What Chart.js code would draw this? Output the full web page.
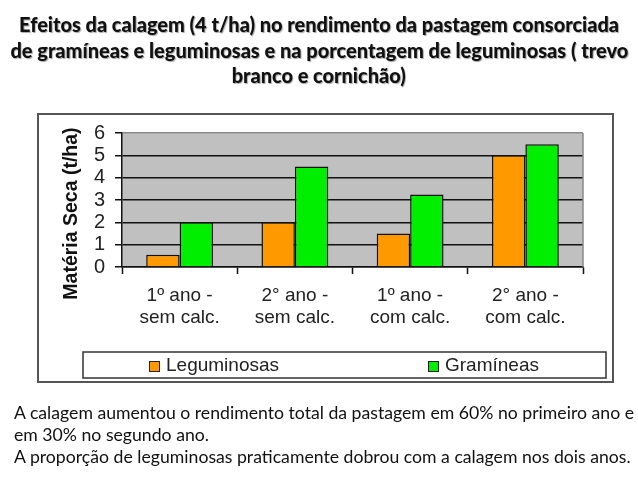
<!DOCTYPE html>
<html>
<head>
<meta charset="utf-8">
<script src="https://cdn.jsdelivr.net/npm/chart.js@4.4.1/dist/chart.umd.min.js"></script>
<style>
  html, body { margin: 0; padding: 0; background: #fff; }
  #wrap { position: relative; width: 638px; height: 479px; overflow: hidden; }
  #c { position: absolute; left: 0; top: 0; }
  .tl { position: absolute; left: -500px; width: 1638px; text-align: center; white-space: nowrap;
        font-family: Lato, "Open Sans", sans-serif; font-weight: 900; font-size: 21px; line-height: 24px;
        color: #111; text-shadow: 1px 1px 1px rgba(0,0,0,0.35); }
  .bl { position: absolute; left: 14px; white-space: nowrap;
        font-family: Lato, "Open Sans", sans-serif; font-size: 17.5px; line-height: 22px; color: #111; }
  .tl span, .bl span { display: inline-block; }
  .bl span { transform-origin: left center; }
  .tl span { transform-origin: center center; }
</style>
</head>
<body>
<div id="wrap">
  <canvas id="c" width="638" height="479"></canvas>
  <div class="tl" style="top:12px"><span id="t1">Efeitos da calagem (4 t/ha) no rendimento da pastagem consorciada</span></div>
  <div class="tl" style="top:38px"><span id="t2">de gramíneas e leguminosas e na porcentagem de leguminosas ( trevo</span></div>
  <div class="tl" style="top:63px"><span id="t3">branco e cornichão)</span></div>
  <div class="bl" style="top:402px"><span id="b1">A calagem aumentou o rendimento total da pastagem em 60% no primeiro ano e</span></div>
  <div class="bl" style="top:424px"><span id="b2">em 30% no segundo ano.</span></div>
  <div class="bl" style="top:446px"><span id="b3">A proporção de leguminosas praticamente dobrou com a calagem nos dois anos.</span></div>
</div>
<script>
// ---- data ----
const categories = [['1º ano -', 'sem calc.'], ['2° ano -', 'sem calc.'], ['1º ano -', 'com calc.'], ['2° ano -', 'com calc.']];
const seriesNames = ['Leguminosas', 'Gramíneas'];
const leguminosas = [0.55, 2.0, 1.5, 5.0];
const gramineas = [2.0, 4.5, 3.25, 5.5];
const yTicks = [0, 1, 2, 3, 4, 5, 6];
const yTitle = 'Matéria Seca (t/ha)';

// ---- text fitting ----
function fit(id, target) {
  const el = document.getElementById(id);
  const w = el.getBoundingClientRect().width;
  const s = target / w;
  el.style.transform = 'scaleX(' + s + ')';
  return s;
}
const s1 = fit('t1', 600);
fit('t2', 618);
document.getElementById('t3').style.transform = 'scaleX(' + s1 + ')';
const sb = fit('b1', 620);
document.getElementById('b2').style.transform = 'scaleX(' + sb + ')';
document.getElementById('b3').style.transform = 'scaleX(' + sb + ')';

const FONT = "'Liberation Sans', Arial, sans-serif";

const decor = {
  id: 'decor',
  beforeDraw(chart) {
    const ctx = chart.ctx, a = chart.chartArea;
    ctx.save();
    ctx.strokeStyle = '#555';
    ctx.lineWidth = 2;
    ctx.strokeRect(38, 114, 575, 268);
    ctx.fillStyle = '#c0c0c0';
    ctx.fillRect(a.left, a.top, a.right - a.left, a.bottom - a.top);
    ctx.restore();
  },
  afterDraw(chart) {
    const ctx = chart.ctx, a = chart.chartArea;
    ctx.save();
    ctx.strokeStyle = '#8a8a8a';
    ctx.lineWidth = 1.5;
    ctx.beginPath();
    ctx.moveTo(a.right, a.top);
    ctx.lineTo(a.right, a.bottom);
    ctx.stroke();
    ctx.fillStyle = '#fff';
    ctx.strokeStyle = '#333';
    ctx.lineWidth = 1.5;
    ctx.fillRect(83, 352, 523, 26);
    ctx.strokeRect(83, 352, 523, 26);
    const xs = [149, 428];
    ctx.font = '19px ' + FONT;
    ctx.textBaseline = 'middle';
    ctx.textAlign = 'left';
    chart.data.datasets.forEach((ds, i) => {
      ctx.fillStyle = ds.backgroundColor;
      ctx.fillRect(xs[i], 361, 11, 11);
      ctx.strokeStyle = '#222';
      ctx.lineWidth = 1;
      ctx.strokeRect(xs[i] + 0.5, 361.5, 10, 10);
      ctx.fillStyle = '#222';
      ctx.fillText(ds.label, xs[i] + 17, 366);
    });
    ctx.restore();
  }
};

new Chart(document.getElementById('c'), {
  type: 'bar',
  data: {
    labels: categories,
    datasets: [
      { label: seriesNames[0], data: leguminosas, backgroundColor: '#ff9900', borderColor: '#111', borderWidth: 1.5 },
      { label: seriesNames[1], data: gramineas, backgroundColor: '#00ee00', borderColor: '#111', borderWidth: 1.5 }
    ]
  },
  options: {
    responsive: false,
    animation: false,
    devicePixelRatio: 1,
    layout: { padding: { left: 38, top: 133, right: 55, bottom: 142 } },
    datasets: { bar: { categoryPercentage: 0.58, barPercentage: 1.0 } },
    plugins: { legend: { display: false }, tooltip: { enabled: false }, title: { display: false } },
    scales: {
      x: {
        afterFit(scale) { scale.height = 70; },
        grid: { display: true, drawOnChartArea: false, offset: true, tickLength: 7, tickColor: '#111', tickWidth: 1.5 },
        border: { color: '#111', width: 1.5 },
        ticks: { font: { family: FONT, size: 19 }, color: '#222', padding: 10, maxRotation: 0, autoSkip: false }
      },
      y: {
        min: 0, max: 6,
        afterFit(scale) { scale.width = 84; },
        afterBuildTicks(scale) { scale.ticks = yTicks.map(v => ({ value: v })); },
        grid: {
          color: ctx => (ctx.tick && ctx.tick.value === 6) ? '#8a8a8a' : '#111',
          lineWidth: 1.5, tickLength: 7, tickColor: '#111', tickWidth: 1.5
        },
        border: { color: '#111', width: 1.5 },
        ticks: { font: { family: FONT, size: 20 }, color: '#222', padding: 10, autoSkip: false },
        title: { display: true, text: yTitle + '     ', font: { family: FONT, size: 19.5, weight: 'bold' }, color: '#111', padding: { top: 22, bottom: 0 } }
      }
    }
  },
  plugins: [decor]
});
</script>
</body>
</html>
